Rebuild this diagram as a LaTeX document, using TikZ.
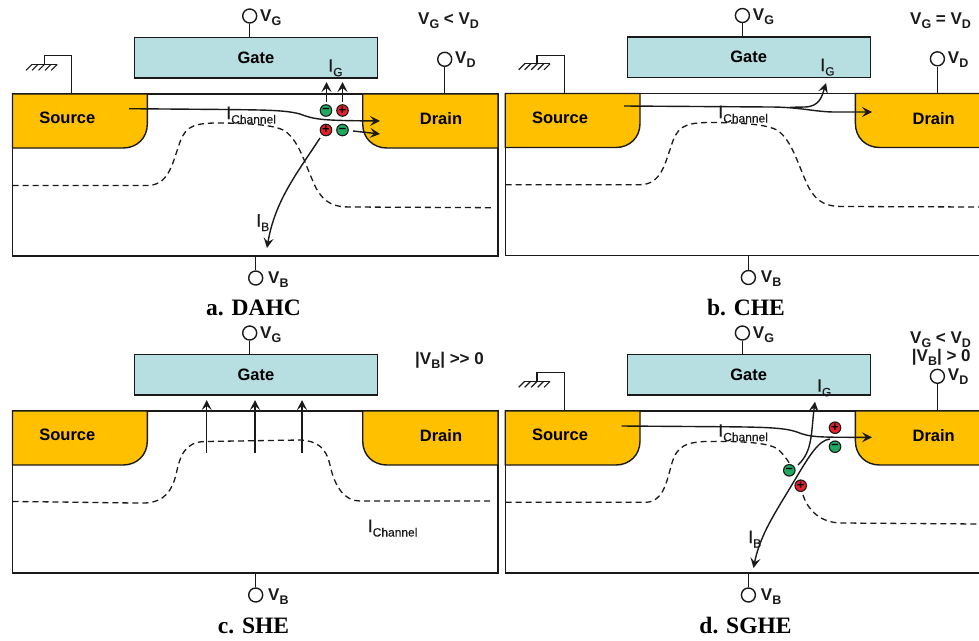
\documentclass[tikz,border=0pt]{standalone}
\usepackage{fontspec}
\setmainfont{Liberation Sans}
\newfontfamily\capfont{Liberation Serif}
\newfontfamily\semifont[FakeBold=0.35]{Liberation Sans}
\usetikzlibrary{arrows.meta}
\definecolor{gold}{HTML}{FFC000}
\definecolor{gatec}{HTML}{B7DEE1}
\definecolor{ink}{HTML}{1A1A1A}
\definecolor{chplus}{HTML}{E8202C}
\definecolor{chminus}{HTML}{22A860}
\newcommand{\fsz}[1]{\fontsize{#1}{#1}\selectfont}
\newcommand{\sbs}[1]{\raisebox{-0.25em}{\fsz{12.5}#1}}
\newcommand{\Vv}[1]{\fsz{17}\bfseries V\sbs{#1}}
\newcommand{\Ii}[1]{\semifont\fsz{18}I\sbs{\fontsize{12}{12}\selectfont #1}}
\tikzset{
  wire/.style={draw=ink,line width=1.4pt},
  bodybox/.style={draw=ink,line width=1.4pt,fill=white,minimum width=485.5pt,minimum height=162pt,inner sep=0pt},
  gatebox/.style={draw=ink,line width=1.4pt,fill=gatec,minimum width=243pt,minimum height=40.5pt,inner sep=0pt,font=\fsz{16.5}\bfseries},
  well/.style={draw=ink,line width=1.4pt,fill=gold},
  terminal/.style={circle,draw=ink,line width=1.4pt,fill=white,minimum size=14pt,inner sep=0pt},
  boldtxt/.style={font=\fsz{16.5}\bfseries,inner sep=0pt},
  lab/.style={anchor=base west,inner sep=0pt,text=ink},
  caption/.style={font=\capfont\fsz{23.5}\bfseries,inner sep=0pt,anchor=base},
  depl/.style={draw=ink,line width=1.3pt,dash pattern=on 6pt off 4pt},
  flow/.style={draw=ink,line width=1.4pt,-{Stealth[length=10pt,width=10pt,inset=4pt]}},
  chargebase/.style={circle,draw=ink,line width=1.1pt,minimum size=11.5pt,inner sep=0pt,font=\fsz{13}\bfseries},
  pluscharge/.style={chargebase,fill=chplus},
  minuscharge/.style={chargebase,fill=chminus},
}
% #1 name prefix, #2 dx, #3 dy
\newcommand{\devicepanel}[3]{%
  \begin{scope}[shift={(#2,#3)}]
    \node[bodybox] (#1body) at (255.25,175) {};
    \path[well] (12.5,94) -- (147.3,94) -- (147.3,124) .. controls (147.3,138) and (137,148) .. (123,148) -- (12.5,148) -- cycle;
    \path[well] (498,94) -- (362.7,94) -- (362.7,124) .. controls (362.7,138) and (373,148) .. (387,148) -- (498,148) -- cycle;
    \node[boldtxt] (#1src) at (67.3,118) {Source};
    \node[boldtxt] (#1drn) at (441,119) {Drain};
    \node[gatebox] (#1gate) at (256,57.7) {Gate};
    \node[terminal] (#1vg) at (249.7,16) {};
    \node[terminal] (#1vb) at (255.7,278) {};
    \node[lab] (#1vgt) at (260,21) {\Vv{G}};
    \node[lab] (#1vbt) at (268,283) {\Vv{B}};
    \draw[wire] (#1vg.south) -- (#1vg.south |- #1gate.north);
    \draw[wire] (#1vb.north) -- (#1vb.north |- #1body.south);
  \end{scope}}
% drain terminal and ground
\newcommand{\biaspanel}[3]{%
  \begin{scope}[shift={(#2,#3)}]
    \node[terminal] (#1vd) at (444.7,59.3) {};
    \node[lab] (#1vdt) at (455,63.5) {\Vv{D}};
    \draw[wire] (#1vd.south) -- (#1vd.south |- #1body.north);
    \coordinate (#1gnd) at (44.3,64.3);
    \draw[wire,line width=1.1pt] (71.7,94) -- (71.7,55.7) -- (44.3,55.7) -- (#1gnd);
    \draw[wire,line width=1.1pt] (31.7,64.3) -- (57.3,64.3);
    \foreach \hx in {32,38,44.5,51,57.3}
      \draw[wire,line width=1.1pt] (\hx,64.3) -- ++(-6,6);
  \end{scope}}
\begin{document}
\begin{tikzpicture}[x=1pt,y=-1pt]
\useasboundingbox (0,0) rectangle (979,640);
\clip (0,0) rectangle (979,640);
\devicepanel{a}{0}{0}
\devicepanel{b}{492.7}{-0.5}
\devicepanel{c}{0}{317}
\devicepanel{d}{492.7}{317}
\biaspanel{a}{0}{0}
\biaspanel{b}{492.7}{-0.5}
\biaspanel{d}{492.7}{317}

% depletion boundaries
\draw[depl] (12.5,185.5) -- (147,185.5) .. controls (168,185.5) and (172,165) .. (178,148) .. controls (184,128) and (190,123.5) .. (215,123) .. controls (250,123) and (275,125) .. (285,131) .. controls (300,142) and (305,165) .. (316,188) .. controls (325,204) and (335,207) .. (350,207) -- (494,207.7);
\draw[depl] (505.5,184.7) -- (639.7,184.7) .. controls (660.7,184.7) and (664.7,164.5) .. (670.7,147.5) .. controls (676.7,127.5) and (682.7,123) .. (707.7,122.5) .. controls (742.7,122.5) and (767.7,124.5) .. (777.7,130.5) .. controls (792.7,141.5) and (797.7,164.5) .. (808.7,187.5) .. controls (817.7,203.5) and (827.7,206.5) .. (842.7,206.5) -- (979,207);
\draw[depl] (12.5,501.5) .. controls (70,502) and (120,503) .. (145,503) .. controls (165,502) and (172,490) .. (176,475) .. controls (180,455) and (185,442) .. (205,441.5) -- (300,440) .. controls (318,441) and (326,448) .. (330,465) .. controls (335,488) and (345,501) .. (360,501) -- (494,501);
\draw[depl] (505.5,502.3) -- (646.7,502.3) .. controls (662,501) and (666,485) .. (670,470) .. controls (675,450) and (680,442.5) .. (705,441.5) .. controls (735,441) and (765,442) .. (776,448) .. controls (782,452) and (786,458) .. (790,464);
\draw[depl] (803,495) .. controls (808,510) and (820,523) .. (842,523) -- (979,524);

% panel a
\node[pluscharge] (aq1) at (342.5,110.5) {+};
\node[minuscharge] (aq2) at (326,110.5) {–};
\node[pluscharge] (aq3) at (326,130) {+};
\node[minuscharge] (aq4) at (342.5,130) {–};
\coordinate (ag1) at (326.5,82);
\coordinate (ag2) at (342.5,82);
\coordinate (achS) at (129,108.7);
\coordinate (achE) at (380,121);
\coordinate (adS) at (353,131);
\coordinate (adE) at (380,134);
\coordinate (aibS) at (320,138);
\coordinate (aibE) at (267,248);
\draw[flow] (326.5,102) -- (ag1);
\draw[flow] (342.5,102) -- (ag2);
\draw[flow] (achS) -- (225,109.5) .. controls (265,110) and (285,110) .. (300,114) .. controls (315,120) and (325,120.5) .. (achE);
\draw[flow] (adS) -- (adE);
\draw[flow] (aibS) .. controls (298,172) and (275,200) .. (aibE);
\node[lab] (aIg) at (328,71.7) {\Ii{G}};
\node[lab] (aIb) at (256,226.5) {\Ii{B}};
\node[lab] (aIc) at (226,119) {\Ii{Channel}};
\node[lab] (acond) at (418,24) {\Vv{G}\fsz{17}\bfseries\ {<} \Vv{D}};
\node[caption] (acap) at (253.5,315) {a. DAHC};

% panel b
\coordinate (bchS) at (624,106);
\coordinate (bchE) at (872,112);
\coordinate (bgE) at (826,83);
\draw[flow] (bchS) -- (770,107) .. controls (800,107) and (815,112) .. (835,112) -- (bchE);
\draw[flow] (790,107.3) -- (805,107) .. controls (820,106.5) and (822,96) .. (bgE);
\node[lab] (bIg) at (820,71) {\Ii{G}};
\node[lab] (bIc) at (718,118) {\Ii{Channel}};
\node[lab] (bcond) at (910,24) {\Vv{G}\fsz{17}\bfseries\ {=} \Vv{D}};
\node[caption] (bcap) at (746,315) {b. CHE};

% panel c
\foreach \n/\ax in {1/206.7,2/255,3/302}{
  \coordinate (cS\n) at (\ax,452.5);
  \coordinate (cE\n) at (\ax,400);
  \draw[flow] (cS\n) -- (cE\n);
}
\node[lab] (cIc) at (367.5,532) {\Ii{Channel}};
\node[lab] (ccond) at (415,364) {\fsz{17}\bfseries |V\sbs{B}| >{}> 0};
\node[caption] (ccap) at (253.5,633) {c. SHE};

% panel d
\node[pluscharge] (dq1) at (835,427.7) {+};
\node[minuscharge] (dq2) at (835,446.7) {–};
\node[minuscharge] (dq3) at (789.3,470.3) {–};
\node[pluscharge] (dq4) at (800.7,485.7) {+};
\coordinate (dchS) at (621.7,426);
\coordinate (dchE) at (872,437.3);
\coordinate (dgS) at (798,465);
\coordinate (dgE) at (815,401.7);
\coordinate (dbS) at (830,439);
\coordinate (dbE) at (753.5,568);
\draw[flow] (dchS) -- (716.7,426.7) .. controls (770,427) and (785,428) .. (797,432) .. controls (810,437.5) and (820,437.3) .. (dchE);
\draw[flow] (dgS) .. controls (813,451) and (811,432) .. (dgE);
\draw[flow] (dbS) .. controls (818,440) and (808,458) .. (793,483) .. controls (775,513) and (760,535) .. (dbE);
\node[lab] (dIg) at (816.7,391.7) {\Ii{G}};
\node[lab] (dIb) at (748,543) {\Ii{B}};
\node[lab] (dIc) at (718,436.7) {\Ii{Channel}};
\node[lab] (dcond) at (910,343) {\Vv{G}\fsz{17}\bfseries\ {<} \Vv{D}};
\node[lab] (dcond2) at (911.7,361.7) {\fsz{17}\bfseries |V\sbs{B}| > 0};
\node[caption] (dcap) at (745.5,633) {d. SGHE};
\end{tikzpicture}
\end{document}
